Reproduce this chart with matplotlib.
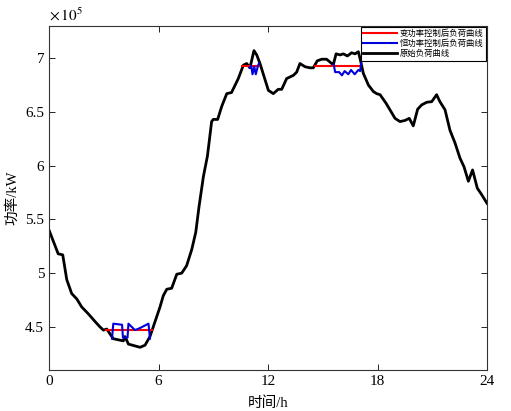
import numpy as np
import matplotlib
matplotlib.use('Agg')
import matplotlib.pyplot as plt
from matplotlib.ticker import FuncFormatter

plt.rcParams['font.family'] = ['Liberation Serif', 'Noto Sans CJK SC']
plt.rcParams['mathtext.fontset'] = 'stix'

# 原始负荷曲线 (h, x10^5 kW)
t_orig = [0, 0.5, 0.75, 0.97, 1.24, 1.52, 1.79, 2.16, 2.52, 2.79, 2.98, 3.16, 3.34, 3.52,
          4.07, 4.16, 4.35, 4.99, 5.26, 5.53, 5.81, 6.08, 6.26, 6.45, 6.72, 7.0, 7.27, 7.54,
          7.82, 8.04, 8.22, 8.46, 8.68, 8.91, 9.0, 9.24, 9.46, 9.74, 10.0, 10.37, 10.65, 10.83,
          11.01, 11.23, 11.38, 11.56, 12.02, 12.29, 12.56, 12.75, 13.02, 13.39, 13.57, 13.75,
          14.03, 14.3, 14.48, 14.7, 14.94, 15.21, 15.49, 15.58, 15.73, 15.95, 16.13, 16.35,
          16.58, 16.77, 16.95, 17.08, 17.22, 17.5, 17.77, 17.95, 18.14, 18.47, 18.68, 18.96,
          19.23, 19.5, 19.74, 19.96, 20.2, 20.42, 20.7, 20.97, 21.24, 21.42, 21.7, 21.97,
          22.25, 22.52, 22.74, 22.98, 23.21, 23.47, 23.71, 24.0]
p_orig = [5.40, 5.18, 5.17, 4.94, 4.81, 4.76, 4.685, 4.62, 4.55, 4.50, 4.47, 4.48, 4.435, 4.39,
          4.37, 4.41, 4.34, 4.31, 4.33, 4.41, 4.55, 4.685, 4.79, 4.85, 4.86, 4.99, 5.00, 5.07,
          5.22, 5.38, 5.62, 5.90, 6.09, 6.41, 6.43, 6.43, 6.55, 6.67, 6.68, 6.81, 6.935, 6.95,
          6.91, 7.07, 7.03, 6.95, 6.70, 6.67, 6.71, 6.71, 6.81, 6.84, 6.87, 6.95,
          6.92, 6.91, 6.91, 6.975, 6.99, 6.99, 6.95, 6.94, 7.04, 7.03, 7.04, 7.02,
          7.05, 7.04, 7.06, 6.97, 6.86, 6.75, 6.69, 6.67, 6.66, 6.58, 6.52, 6.44,
          6.41, 6.42, 6.44, 6.37, 6.525, 6.565, 6.59, 6.595, 6.66, 6.595, 6.52, 6.33,
          6.21, 6.07, 5.99, 5.855, 5.96, 5.79, 5.73, 5.65]

# 变功率控制后负荷曲线 (只画与原始曲线不同的部分)
t_var = [3.1, 5.65, np.nan, 10.6, 11.5, np.nan, 14.56, 17.05]
p_var = [4.47, 4.47, np.nan, 6.93, 6.93, np.nan, 6.925, 6.925]

# 恒功率控制后负荷曲线
t_const = [3.45, 3.52, 4.0, 4.05, 4.3, 4.35, 4.71, 4.99, 5.45, 5.53, np.nan,
           11.0, 11.08, 11.15, 11.25, 11.33, 11.45, 11.5, np.nan,
           15.6, 15.68, 15.9, 16.05, 16.2, 16.4, 16.55, 16.75, 16.95, 17.05, 17.1]
p_const = [4.39, 4.53, 4.52, 4.40, 4.40, 4.53, 4.47, 4.49, 4.53, 4.39, np.nan,
           6.91, 6.93, 6.85, 6.92, 6.85, 6.93, 6.95, np.nan,
           6.94, 6.87, 6.87, 6.84, 6.88, 6.85, 6.89, 6.85, 6.89, 6.88, 6.95]

scale = 1e5
fig = plt.figure(figsize=(5.11, 4.11), dpi=100)
ax = fig.add_axes([0.096, 0.1, 0.857, 0.837])

l3, = ax.plot(t_orig, np.array(p_orig) * scale, color='black', lw=2)
l1, = ax.plot(t_var, np.array(p_var) * scale, color='red', lw=1.5)
l2, = ax.plot(t_const, np.array(p_const) * scale, color='#0000dd', lw=1.5)

ax.set_xlim(0, 24)
ax.set_ylim(4.1e5, 7.3e5)
ax.set_xticks([0, 6, 12, 18, 24])
ax.set_yticks(np.array([4.5, 5, 5.5, 6, 6.5, 7]) * scale)
ax.yaxis.set_major_formatter(FuncFormatter(lambda v, pos: '%g' % (v / scale)))
ax.tick_params(direction='in', top=True, right=True, labelsize=11, length=4, width=0.6)
for s in ax.spines.values():
    s.set_linewidth(0.8)
    s.set_color('#333333')

ax.text(0.0, 1.008, r'$\times\,10^5$', transform=ax.transAxes, fontsize=11,
        ha='left', va='bottom')
ax.set_xlabel('时间/h', fontsize=10.5, labelpad=6)
ax.set_ylabel('功率/kW', fontsize=10.5, labelpad=4)

leg = ax.legend([l1, l2, l3], ['变功率控制后负荷曲线', '恒功率控制后负荷曲线', '原始负荷曲线'],
                loc='upper right', borderaxespad=0.1, handlelength=4,
                fancybox=False, framealpha=1, edgecolor='black', borderpad=0.3,
                labelspacing=0.12, handletextpad=0.4, prop={'family': ['Noto Sans CJK SC'], 'size': 6})
leg.get_frame().set_linewidth(0.8)

fig.savefig('out.png', dpi=100)
